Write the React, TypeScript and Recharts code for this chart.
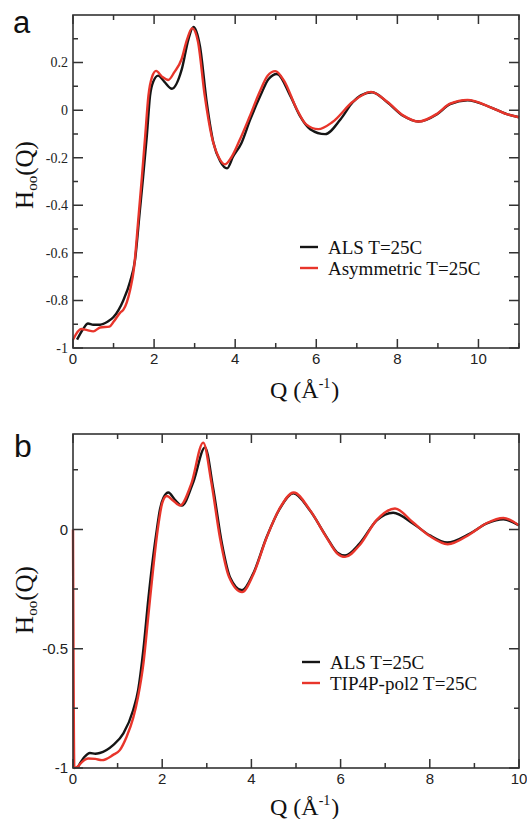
import { LineChart, Line, XAxis, YAxis } from "recharts";

// panel a: ALS vs Asymmetric, T=25C
const qAlsA = [0.1, 0.25, 0.37, 0.5, 0.67, 0.85, 1.0, 1.24, 1.41, 1.53, 1.65, 1.73, 1.82, 1.9, 1.98, 2.1, 2.25, 2.44, 2.68, 2.85, 2.97, 3.13, 3.3, 3.46, 3.63, 3.8, 3.95, 4.15, 4.37, 4.62, 4.82, 5.03, 5.36, 5.6, 5.85, 6.22, 6.6, 6.9, 7.1, 7.38, 7.75, 8.15, 8.52, 8.98, 9.3, 9.73, 10.3, 10.7, 11];
const hAlsA = [-0.965, -0.92, -0.897, -0.902, -0.902, -0.89, -0.87, -0.8, -0.72, -0.63, -0.42, -0.28, -0.11, 0.06, 0.12, 0.145, 0.12, 0.09, 0.17, 0.3, 0.35, 0.27, 0.03, -0.135, -0.215, -0.245, -0.195, -0.14, -0.04, 0.06, 0.13, 0.152, 0.06, -0.025, -0.08, -0.101, -0.038, 0.033, 0.062, 0.075, 0.033, -0.025, -0.048, -0.017, 0.025, 0.041, 0.012, -0.017, -0.03];

const qAsymA = [0, 0.2, 0.35, 0.5, 0.67, 0.9, 1.0, 1.17, 1.24, 1.41, 1.5, 1.62, 1.7, 1.78, 1.86, 1.95, 2.05, 2.2, 2.35, 2.5, 2.68, 2.8, 2.94, 3.08, 3.25, 3.42, 3.6, 3.75, 3.9, 4.1, 4.35, 4.6, 4.8, 4.99, 5.2, 5.52, 5.75, 6.05, 6.4, 6.9, 7.35, 7.75, 8.15, 8.52, 8.98, 9.3, 9.73, 10.3, 10.7, 11];
const hAsymA = [-0.965, -0.92, -0.925, -0.93, -0.914, -0.91, -0.89, -0.85, -0.84, -0.755, -0.67, -0.44, -0.28, -0.11, 0.06, 0.14, 0.165, 0.14, 0.127, 0.16, 0.215, 0.29, 0.345, 0.29, 0.06, -0.11, -0.2, -0.228, -0.2, -0.13, -0.03, 0.075, 0.145, 0.164, 0.125, 0.004, -0.06, -0.08, -0.05, 0.035, 0.077, 0.035, -0.023, -0.048, -0.015, 0.027, 0.043, 0.012, -0.017, -0.03];

// panel b: ALS vs TIP4P-pol2, T=25C
const qAlsB = [0.11, 0.25, 0.38, 0.5, 0.6, 0.9, 1.13, 1.35, 1.46, 1.58, 1.69, 1.8, 1.88, 1.95, 2.03, 2.14, 2.28, 2.44, 2.7, 2.96, 3.14, 3.34, 3.52, 3.79, 4.04, 4.34, 4.64, 4.94, 5.31, 5.69, 5.92, 6.1, 6.43, 6.81, 7.18, 7.62, 8.0, 8.39, 8.9, 9.28, 9.65, 10];
const hAlsB = [-0.996, -0.955, -0.937, -0.94, -0.937, -0.904, -0.855, -0.757, -0.674, -0.5, -0.29, -0.11, 0.0, 0.085, 0.134, 0.155, 0.125, 0.1, 0.2, 0.344, 0.176, -0.06, -0.2, -0.255, -0.185, -0.033, 0.088, 0.151, 0.08, -0.033, -0.096, -0.109, -0.058, 0.038, 0.07, 0.025, -0.025, -0.055, -0.017, 0.025, 0.042, 0.017];

const qPol2B = [0, 0.03, 0.1, 0.2, 0.34, 0.5, 0.65, 0.9, 1.05, 1.2, 1.35, 1.46, 1.58, 1.69, 1.8, 1.9, 2.0, 2.1, 2.25, 2.4, 2.65, 2.92, 3.1, 3.3, 3.5, 3.79, 4.04, 4.34, 4.64, 4.95, 5.31, 5.69, 5.92, 6.1, 6.43, 6.81, 7.22, 7.62, 8.0, 8.4, 8.9, 9.28, 9.65, 10];
const hPol2B = [0, -1.0, -0.995, -0.975, -0.96, -0.962, -0.967, -0.945, -0.925, -0.87, -0.79, -0.7, -0.56, -0.36, -0.16, 0.0, 0.11, 0.14, 0.12, 0.1, 0.19, 0.364, 0.2, -0.04, -0.2, -0.263, -0.19, -0.035, 0.09, 0.155, 0.082, -0.035, -0.1, -0.115, -0.065, 0.04, 0.088, 0.03, -0.028, -0.062, -0.02, 0.027, 0.048, 0.017];

const xTicksA = [0, 1, 2, 3, 4, 5, 6, 7, 8, 9, 10, 11];
const xLabelsA = [0, 2, 4, 6, 8, 10];
const yTicksA = [-1, -0.9, -0.8, -0.7, -0.6, -0.5, -0.4, -0.3, -0.2, -0.1, 0, 0.1, 0.2, 0.3];
const yLabelsA = [-1, -0.8, -0.6, -0.4, -0.2, 0, 0.2];

const xTicksB = [0, 1, 2, 3, 4, 5, 6, 7, 8, 9, 10];
const xLabelsB = [0, 2, 4, 6, 8, 10];
const yTicksB = [-1, -0.75, -0.5, -0.25, 0, 0.25];
const yLabelsB = [-1, -0.5, 0];

const Y_MIN = -1;
const Y_MAX = 0.4;

const toPoints = (q: number[], h: number[]) => q.map((x, i) => ({ q: x, h: h[i] }));

const BLACK = "#151515";
const RED = "#e8352b";
const FRAME = "#333333";
const SANS = "'Liberation Sans', Arial, sans-serif";
const SERIF = "'Liberation Serif', 'Times New Roman', serif";

const W = 527;
const H = 819;

// plot boxes in page pixels (left 72 margin + 1px axis, right margin 8)
const boxA = { left: 73, right: 519, top: 15, bottom: 348 };
const boxB = { left: 73, right: 519, top: 434, bottom: 768 };

function XLabel(props: any) {
  const { x, y, payload, labels } = props;
  const v = payload.value;
  if (!labels.includes(v)) return <g />;
  return (
    <text x={x} y={y + 15.5} textAnchor="middle" fontFamily={SANS} fontSize={15} fill="#222">
      {v}
    </text>
  );
}

function YLabel(props: any) {
  const { x, y, payload, labels, font, size } = props;
  const v = payload.value;
  if (!labels.includes(v)) return <g />;
  return (
    <text x={x - 5} y={y} dy="0.35em" textAnchor="end" fontFamily={font} fontSize={size} fill="#222">
      {v}
    </text>
  );
}

// frame with inward ticks on all four sides
function Frame({ box, xMax, xTicks, xLabels, yTicks, yLabels }: any) {
  const { left, right, top, bottom } = box;
  const sx = (q: number) => left + (q / xMax) * (right - left);
  const sy = (h: number) => bottom - ((h - Y_MIN) / (Y_MAX - Y_MIN)) * (bottom - top);
  let ticks = "";
  xTicks.forEach((q: number) => {
    const len = xLabels.includes(q) ? 9 : 5;
    const x = sx(q);
    ticks += `M${x},${bottom}v${-len}M${x},${top}v${len}`;
  });
  yTicks.forEach((h: number) => {
    const len = yLabels.includes(h) ? 10 : 5;
    const y = sy(h);
    ticks += `M${left},${y}h${len}M${right},${y}h${-len}`;
  });
  return (
    <g>
      <rect x={left} y={top} width={right - left} height={bottom - top} fill="none" stroke={FRAME} strokeWidth={1.6} />
      <path d={ticks} fill="none" stroke={FRAME} strokeWidth={1.5} />
    </g>
  );
}

function Panel({ height, margin, xMax, xTicks, xLabels, yTicks, yLabels, yFont, yFontSize, black, red }: any) {
  return (
    <LineChart width={W} height={height} margin={margin}>
      <XAxis
        type="number"
        dataKey="q"
        domain={[0, xMax]}
        ticks={xTicks}
        interval={0}
        height={1}
        axisLine={false}
        tickLine={false}
        tickSize={0}
        tickMargin={0}
        tick={(p: any) => <XLabel {...p} labels={xLabels} />}
      />
      <YAxis
        type="number"
        dataKey="h"
        domain={[Y_MIN, Y_MAX]}
        ticks={yTicks}
        interval={0}
        width={1}
        axisLine={false}
        tickLine={false}
        tickSize={0}
        tickMargin={0}
        tick={(p: any) => <YLabel {...p} labels={yLabels} font={yFont} size={yFontSize} />}
      />
      <Line data={black} dataKey="h" type="monotone" stroke={BLACK} strokeWidth={2.4} dot={false} isAnimationActive={false} />
      <Line data={red} dataKey="h" type="monotone" stroke={RED} strokeWidth={2.4} dot={false} isAnimationActive={false} />
    </LineChart>
  );
}

function QTitle({ y }: { y: number }) {
  return (
    <text x={270} y={y} fontFamily={SERIF} fontSize={24} fill="#111">
      Q (Å
      <tspan fontSize={14} dy={-10}>-1</tspan>
      <tspan dy={10} dx={1}>)</tspan>
    </text>
  );
}

function HTitle({ cy }: { cy: number }) {
  return (
    <text transform={`translate(33, ${cy}) rotate(-90)`} textAnchor="middle" fontFamily={SERIF} fontSize={25} fill="#111">
      H
      <tspan fontSize={15} dy={4}>oo</tspan>
      <tspan dy={-4}>(Q)</tspan>
    </text>
  );
}

export default function App() {
  return (
    <div style={{ position: "absolute", left: 0, top: 0, width: W, height: H, background: "#fff" }}>
      <div style={{ position: "absolute", left: 0, top: 0 }}>
        <Panel
          height={400}
          margin={{ top: 15, right: 8, bottom: 51, left: 72 }}
          xMax={11}
          xTicks={xTicksA}
          xLabels={xLabelsA}
          yTicks={yTicksA}
          yLabels={yLabelsA}
          yFont={SERIF}
          yFontSize={14}
          black={toPoints(qAlsA, hAlsA)}
          red={toPoints(qAsymA, hAsymA)}
        />
      </div>
      <div style={{ position: "absolute", left: 0, top: 410 }}>
        <Panel
          height={409}
          margin={{ top: 24, right: 8, bottom: 50, left: 72 }}
          xMax={10}
          xTicks={xTicksB}
          xLabels={xLabelsB}
          yTicks={yTicksB}
          yLabels={yLabelsB}
          yFont={SANS}
          yFontSize={15}
          black={toPoints(qAlsB, hAlsB)}
          red={toPoints(qPol2B, hPol2B)}
        />
      </div>
      <svg width={W} height={H} style={{ position: "absolute", left: 0, top: 0, pointerEvents: "none" }}>
        <Frame box={boxA} xMax={11} xTicks={xTicksA} xLabels={xLabelsA} yTicks={yTicksA} yLabels={yLabelsA} />
        <Frame box={boxB} xMax={10} xTicks={xTicksB} xLabels={xLabelsB} yTicks={yTicksB} yLabels={yLabelsB} />

        <text x={13} y={33} fontFamily={SANS} fontSize={31} fill="#111">a</text>
        <text x={14} y={457} fontFamily={SANS} fontSize={32} fill="#111">b</text>
        <HTitle cy={175} />
        <HTitle cy={600} />
        <QTitle y={398} />
        <QTitle y={815} />

        <line x1={300} x2={318} y1={247} y2={247} stroke={BLACK} strokeWidth={2.4} />
        <text x={328} y={254} fontFamily={SERIF} fontSize={19} fill="#111">ALS T=25C</text>
        <line x1={300} x2={318} y1={268} y2={268} stroke={RED} strokeWidth={2.4} />
        <text x={328} y={275} fontFamily={SERIF} fontSize={19} fill="#111">Asymmetric T=25C</text>

        <line x1={302} x2={320} y1={662} y2={662} stroke={BLACK} strokeWidth={2.4} />
        <text x={330} y={669} fontFamily={SERIF} fontSize={19} fill="#111">ALS T=25C</text>
        <line x1={302} x2={320} y1={683} y2={683} stroke={RED} strokeWidth={2.4} />
        <text x={330} y={690} fontFamily={SERIF} fontSize={19} fill="#111">TIP4P-pol2 T=25C</text>
      </svg>
    </div>
  );
}
